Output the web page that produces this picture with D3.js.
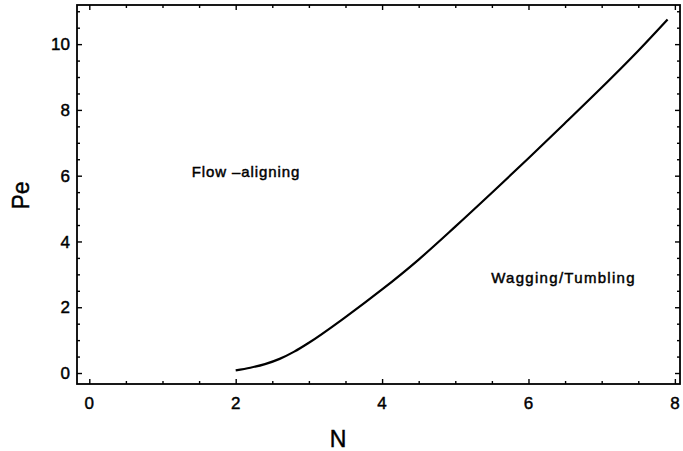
<!DOCTYPE html>
<html>
<head>
<meta charset="utf-8">
<script src="https://cdn.jsdelivr.net/npm/d3@7"></script>
<style>
  body { margin: 0; background: #fff; }
  svg text { font-family: "Liberation Sans", Arial, sans-serif; fill: #000; stroke: #000; stroke-width: 0.45px; }
</style>
</head>
<body>
<div id="chart"></div>
<script>
// boundary curve between the two regimes
let nValues  = [2.0, 2.2, 2.4, 2.6, 2.8, 3.0, 3.5, 4.0, 4.5, 5.0, 5.5, 6.0, 6.5, 7.0, 7.5, 7.9];
let peValues = [0.08, 0.16, 0.27, 0.43, 0.65, 0.92, 1.70, 2.54, 3.45, 4.45, 5.48, 6.53, 7.6, 8.68, 9.8, 10.75];

let xTicks = [0, 2, 4, 6, 8];
let yTicks = [0, 2, 4, 6, 8, 10];

let regionLabels = [
  {text: "Flow \u2013aligning", n: 1.4, pe: 5.95, spacing: 0.9},
  {text: "Wagging/Tumbling", n: 5.49, pe: 2.73, spacing: 1.3}
];

let width = 683, height = 451;
let margin = {top: 5, right: 3, bottom: 67, left: 77};

let svg = d3.select("#chart").append("svg")
    .attr("width", width)
    .attr("height", height);

let x = d3.scaleLinear()
    .domain([-0.168, 8.07])
    .range([margin.left, width - margin.right]);

let y = d3.scaleLinear()
    .domain([-0.334, 11.19])
    .range([height - margin.bottom, margin.top]);

let xMinor = d3.range(0, 8.01, 0.5).filter(function(v) { return xTicks.indexOf(v) < 0; });
let yMinor = d3.range(0, 11.01, 0.5).filter(function(v) { return yTicks.indexOf(v) < 0; });

let axisStyle = function(g) {
  g.select(".domain").remove();
  g.selectAll("line").attr("stroke", "#000").attr("stroke-width", 1.4);
};

// bottom
svg.append("g")
    .attr("transform", "translate(0," + y.range()[0] + ")")
    .call(d3.axisTop(x).tickValues(xTicks).tickSize(5).tickFormat(""))
    .call(axisStyle);
svg.append("g")
    .attr("transform", "translate(0," + y.range()[0] + ")")
    .call(d3.axisTop(x).tickValues(xMinor).tickSize(3).tickFormat(""))
    .call(axisStyle);
// top
svg.append("g")
    .attr("transform", "translate(0," + y.range()[1] + ")")
    .call(d3.axisBottom(x).tickValues(xTicks).tickSize(5).tickFormat(""))
    .call(axisStyle);
svg.append("g")
    .attr("transform", "translate(0," + y.range()[1] + ")")
    .call(d3.axisBottom(x).tickValues(xMinor).tickSize(3).tickFormat(""))
    .call(axisStyle);
// left
svg.append("g")
    .attr("transform", "translate(" + x.range()[0] + ",0)")
    .call(d3.axisRight(y).tickValues(yTicks).tickSize(5).tickFormat(""))
    .call(axisStyle);
svg.append("g")
    .attr("transform", "translate(" + x.range()[0] + ",0)")
    .call(d3.axisRight(y).tickValues(yMinor).tickSize(3).tickFormat(""))
    .call(axisStyle);
// right
svg.append("g")
    .attr("transform", "translate(" + x.range()[1] + ",0)")
    .call(d3.axisLeft(y).tickValues(yTicks).tickSize(5).tickFormat(""))
    .call(axisStyle);
svg.append("g")
    .attr("transform", "translate(" + x.range()[1] + ",0)")
    .call(d3.axisLeft(y).tickValues(yMinor).tickSize(3).tickFormat(""))
    .call(axisStyle);

// frame
svg.append("rect")
    .attr("x", x.range()[0])
    .attr("y", y.range()[1])
    .attr("width", x.range()[1] - x.range()[0])
    .attr("height", y.range()[0] - y.range()[1])
    .style("fill", "none")
    .style("stroke", "#000")
    .style("stroke-width", 1.8);

// tick labels
svg.selectAll(".xlab")
    .data(xTicks)
  .enter().append("text")
    .attr("class", "xlab")
    .attr("x", function(d) { return x(d); })
    .attr("y", 409)
    .attr("text-anchor", "middle")
    .style("font-size", "17px")
    .text(function(d) { return d; });

svg.selectAll(".ylab")
    .data(yTicks)
  .enter().append("text")
    .attr("class", "ylab")
    .attr("x", 70)
    .attr("y", function(d) { return y(d); })
    .attr("dy", "0.36em")
    .attr("text-anchor", "end")
    .style("font-size", "17px")
    .text(function(d) { return d; });

// axis titles
svg.append("text")
    .attr("x", x(3.4))
    .attr("y", 447)
    .attr("text-anchor", "middle")
    .style("font-size", "23px")
    .text("N");

svg.append("text")
    .attr("transform", "translate(29," + y(5.4) + ") rotate(-90)")
    .attr("text-anchor", "middle")
    .style("font-size", "23px")
    .text("Pe");

// curve
let points = nValues.map(function(n, i) { return [n, peValues[i]]; });
let line = d3.line()
    .x(function(d) { return x(d[0]); })
    .y(function(d) { return y(d[1]); })
    .curve(d3.curveMonotoneX);

svg.append("path")
    .datum(points)
    .attr("d", line)
    .style("fill", "none")
    .style("stroke", "#000")
    .style("stroke-width", 2.2);

// region labels
svg.selectAll(".region")
    .data(regionLabels)
  .enter().append("text")
    .attr("class", "region")
    .attr("x", function(d) { return x(d.n); })
    .attr("y", function(d) { return y(d.pe); })
    .style("font-size", "15px")
    .style("letter-spacing", function(d) { return d.spacing + "px"; })
    .text(function(d) { return d.text; });
</script>
</body>
</html>
